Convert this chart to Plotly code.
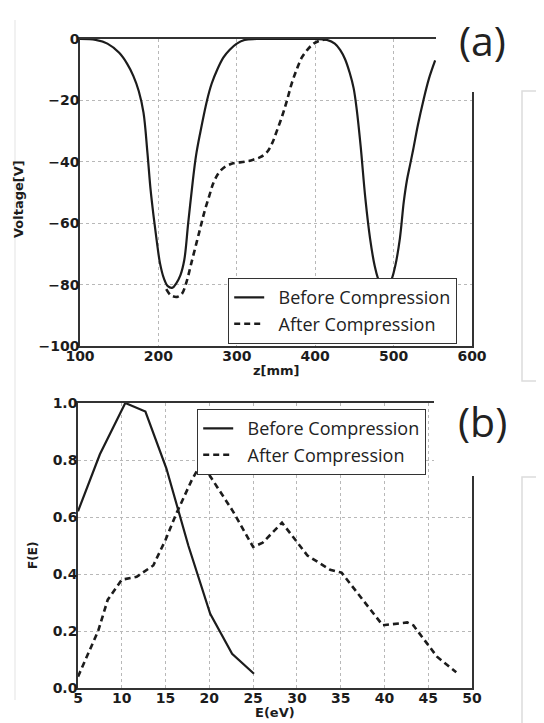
import plotly.graph_objects as go

# ---- panel (a): potential along z ----
z_before = [100, 120, 135, 150, 160, 168, 175, 181, 186, 190, 194, 198, 202, 207, 212, 218,
            223, 228, 233, 238, 244, 248, 253, 262, 268, 275, 283, 291, 300, 310, 325,
            360, 400, 415, 425, 432, 438, 444, 449, 453, 458, 464, 470, 476, 482, 489,
            496, 502, 508, 513, 517, 521, 525, 531, 538, 545, 553]
v_before = [0, -0.3, -1.5, -4.5, -8, -12, -17, -24, -37, -49, -58, -66, -73, -78, -80.5, -81,
            -79.5, -77, -72, -60, -46, -38, -31, -20, -14.5, -10, -6, -3.5, -1.5, -0.3, 0,
            0, 0, -0.3, -1.5, -3.6, -6.5, -11, -16, -23, -35, -52, -65, -74, -79, -80.5,
            -79, -74, -65, -53, -46, -41, -36, -28, -20, -13, -7]

z_after = [210, 216, 224, 230, 236, 242, 249, 254, 259, 265, 270, 276, 283, 295, 310, 321,
           330, 338, 345, 351, 358, 364, 370, 377, 383, 391, 398, 405, 415]
v_after = [-81.5, -83.5, -84, -83, -79, -73, -66, -61, -56, -51, -47, -44, -42, -40.5, -40, -39.3,
           -38.5, -37, -34, -30, -25, -20, -14.5, -9.5, -6, -3.2, -1.5, -0.6, 0]

# ---- panel (b): energy distribution ----
e_before = [5, 7.5, 10.4, 12.7, 15.1, 17.6, 20.1, 22.6, 25.1]
f_before = [0.62, 0.82, 1.0, 0.97, 0.77, 0.50, 0.26, 0.12, 0.05]

e_after = [5, 7.3, 8.4, 10, 11.7, 13.6, 15, 16.2, 18, 19.1, 22.7, 25, 26.1, 28.3, 31.2,
           33.8, 35.1, 37.3, 39.8, 42.6, 43.3, 46, 48.2]
f_after = [0.04, 0.20, 0.31, 0.38, 0.39, 0.43, 0.52, 0.61, 0.73, 0.79, 0.62, 0.495, 0.51, 0.58, 0.465,
           0.415, 0.405, 0.32, 0.22, 0.23, 0.22, 0.11, 0.055]

z_ticks = [100, 200, 300, 400, 500, 600]
v_ticks = [-100, -80, -60, -40, -20, 0]
e_ticks = [5, 10, 15, 20, 25, 30, 35, 40, 45, 50]
f_ticks = [0.0, 0.2, 0.4, 0.6, 0.8, 1.0]

W, H = 544, 723
OFF = 8  # page body margin: the figure starts 8px in from the window corner
INK = "#1c1c1c"
solid = dict(color=INK, width=2.2)
dashed = dict(color=INK, width=2.6, dash="6px,4px")


def px(x):
    return (x - OFF) / W


def py(y):
    return 1 - (y - OFF) / H


fig = go.Figure()
fig.add_trace(go.Scatter(x=z_before, y=v_before, mode="lines", line_shape="spline",
                         line=solid, name="\u00a0\u00a0Before Compression", legend="legend"))
fig.add_trace(go.Scatter(x=z_after, y=v_after, mode="lines", line_shape="spline",
                         line=dashed, name="\u00a0\u00a0After Compression", legend="legend"))
fig.add_trace(go.Scatter(x=e_before, y=f_before, mode="lines", line=solid,
                         name="\u00a0\u00a0Before Compression", legend="legend2", xaxis="x2", yaxis="y2"))
fig.add_trace(go.Scatter(x=e_after, y=f_after, mode="lines", line=dashed,
                         name="\u00a0\u00a0After Compression", legend="legend2", xaxis="x2", yaxis="y2"))

tick_font = dict(family="DejaVu Sans", size=14, color=INK, weight="bold")
axis_common = dict(showline=True, linecolor="#333", linewidth=1.5, mirror=True,
                   showgrid=True, gridcolor="#b8b8b8", griddash="dot", gridwidth=1,
                   zeroline=False, ticks="", tickfont=tick_font, automargin=False,
                   ticklabelstandoff=-4)

legend_common = dict(bgcolor="white", bordercolor="#333", borderwidth=1.2,
                     font=dict(family="Open Sans", size=18, color="#222"),
                     xanchor="left", yanchor="top", traceorder="normal", tracegroupgap=0)

fig.update_layout(
    width=W, height=H, autosize=False,
    paper_bgcolor="white", plot_bgcolor="white",
    margin=dict(l=0, r=0, t=0, b=0, pad=0),
    xaxis=dict(domain=[px(80), px(472)], range=[100, 600], tickvals=z_ticks, anchor="y", **axis_common),
    yaxis=dict(domain=[py(346), py(39)], range=[-100, 0], tickvals=v_ticks, anchor="x", **axis_common),
    xaxis2=dict(domain=[px(78), px(472)], range=[5, 50], tickvals=e_ticks, anchor="y2", **axis_common),
    yaxis2=dict(domain=[py(688), py(403)], range=[0, 1.0], tickvals=f_ticks, tickformat=".1f",
                anchor="x2", **axis_common),
    legend=dict(x=px(228), y=py(278), **legend_common),
    legend2=dict(x=px(197), y=py(409), **legend_common),
)


def note(x, y, text, font, angle=0):
    fig.add_annotation(x=px(x), y=py(y), xref="paper", yref="paper", text=text,
                       showarrow=False, textangle=angle, font=font,
                       xanchor="center", yanchor="middle")


label_font = dict(family="DejaVu Sans", size=13, color=INK, weight="bold")
note(276, 370, "z[mm]", label_font)
note(275, 712, "E(eV)", label_font)
note(19, 199, "Voltage[V]", label_font, -90)
note(33, 556, "F(E)", dict(family="DejaVu Sans", size=12, color=INK, weight="bold"), -90)

panel_font = dict(family="Open Sans", size=41, color="#222")
note(482, 40, "(a)", panel_font)
note(482, 421, "(b)", panel_font)

# white patches where the panel labels were pasted over the frame corners
fig.add_shape(type="rect", xref="paper", yref="paper", layer="above",
              x0=px(436), x1=px(520), y0=py(92), y1=1.0, fillcolor="white", line_width=0)
fig.add_shape(type="rect", xref="paper", yref="paper", layer="above",
              x0=px(434), x1=px(520), y0=py(476), y1=py(382), fillcolor="white", line_width=0)

# faint scan edges
edge = dict(color="#dcdcdc", width=1.5)
fig.add_shape(type="rect", xref="paper", yref="paper", x0=px(522), x1=1.0, y0=py(381), y1=py(91), line=edge)
fig.add_shape(type="rect", xref="paper", yref="paper", x0=px(522), x1=1.0, y0=0.0, y1=py(477), line=edge)
fig.add_shape(type="line", xref="paper", yref="paper", x0=px(15), x1=px(15), y0=py(700), y1=py(20),
              line=dict(color="#ececec", width=1.5))

fig.write_html("out.html")
